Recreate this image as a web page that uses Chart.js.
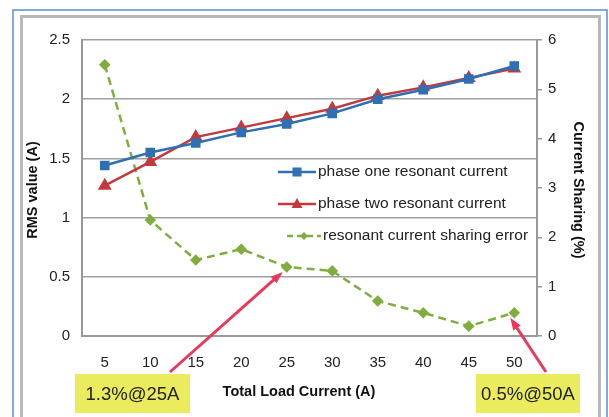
<!DOCTYPE html>
<html>
<head>
<meta charset="utf-8">
<script src="https://cdn.jsdelivr.net/npm/chart.js@4"></script>
<style>
  html, body { margin: 0; padding: 0; background: #fff; }
  #wrap { width: 609px; height: 417px; position: relative; }
</style>
</head>
<body>
<div id="wrap"><canvas id="c" width="609" height="417"></canvas></div>
<script>
const loadCurrent = ['5', '10', '15', '20', '25', '30', '35', '40', '45', '50'];
const phaseOne = [1.44, 1.55, 1.63, 1.72, 1.79, 1.88, 2.00, 2.08, 2.17, 2.28];
const phaseTwo = [1.27, 1.47, 1.68, 1.76, 1.84, 1.92, 2.03, 2.10, 2.18, 2.26];
const sharingError = [5.5, 2.35, 1.54, 1.76, 1.40, 1.32, 0.71, 0.47, 0.2, 0.47];
const leftTicks = [0, 0.5, 1, 1.5, 2, 2.5];
const rightTicks = [0, 1, 2, 3, 4, 5, 6];

const FONT = '"Liberation Sans", Arial, sans-serif';
const BLUE = '#2f6fb3';
const RED = '#c23a3d';
const GREEN = '#7fae3e';

// frame, legend, axis titles and callouts drawn on top of the chart
const decorations = {
  id: 'decorations',
  beforeDraw(chart) {
    const ctx = chart.ctx;
    ctx.save();
    ctx.strokeStyle = '#5a8fd6';
    ctx.lineWidth = 1.5;
    ctx.strokeRect(13, 10, 594, 420);
    ctx.strokeStyle = '#b9b9b9';
    ctx.lineWidth = 3;
    ctx.strokeRect(21.5, 16.5, 578, 420);
    ctx.restore();
  },
  afterDraw(chart) {
    const ctx = chart.ctx;
    ctx.save();

    // legend
    const entries = [
      { label: 'phase one resonant current', color: BLUE, shape: 'rect', y: 172, x0: 278, x1: 316, tx: 318 },
      { label: 'phase two resonant current', color: RED, shape: 'triangle', y: 204, x0: 278, x1: 316, tx: 318 },
      { label: 'resonant current sharing error', color: GREEN, shape: 'rectRot', y: 236, x0: 287, x1: 321, tx: 323 }
    ];
    entries.forEach(e => {
      ctx.strokeStyle = e.color;
      ctx.lineWidth = 2.5;
      ctx.setLineDash(e.shape === 'rectRot' ? [6, 4] : []);
      ctx.beginPath();
      ctx.moveTo(e.x0, e.y);
      ctx.lineTo(e.x1, e.y);
      ctx.stroke();
      ctx.setLineDash([]);
      ctx.fillStyle = e.color;
      const mx = (e.x0 + e.x1) / 2;
      if (e.shape === 'rect') ctx.fillRect(mx - 4.5, e.y - 4.5, 9, 9);
      if (e.shape === 'triangle') {
        ctx.beginPath();
        ctx.moveTo(mx, e.y - 6); ctx.lineTo(mx + 5.5, e.y + 4); ctx.lineTo(mx - 5.5, e.y + 4);
        ctx.closePath(); ctx.fill();
      }
      if (e.shape === 'rectRot') {
        ctx.beginPath();
        ctx.moveTo(mx, e.y - 4); ctx.lineTo(mx + 4, e.y); ctx.lineTo(mx, e.y + 4); ctx.lineTo(mx - 4, e.y);
        ctx.closePath(); ctx.fill();
      }
      ctx.fillStyle = '#222';
      ctx.font = '15.5px ' + FONT;
      ctx.textAlign = 'left';
      ctx.textBaseline = 'middle';
      ctx.fillText(e.label, e.tx, e.y);
    });

    // axis titles
    ctx.fillStyle = '#111';
    ctx.font = 'bold 14.5px ' + FONT;
    ctx.textAlign = 'center';
    ctx.textBaseline = 'middle';
    ctx.fillText('Total Load Current (A)', 299, 392);
    ctx.save();
    ctx.translate(33, 190);
    ctx.rotate(-Math.PI / 2);
    ctx.fillText('RMS value (A)', 0, 0);
    ctx.restore();
    ctx.save();
    ctx.translate(578, 190);
    ctx.rotate(Math.PI / 2);
    ctx.fillText('Current Sharing (%)', 0, 0);
    ctx.restore();

    // callouts
    const x = chart.scales.x;
    const y1 = chart.scales.y1;
    const callouts = [
      { text: '1.3%@25A', box: [75, 374, 115, 39], from: [170, 372], idx: 4 },
      { text: '0.5%@50A', box: [476, 374, 104, 39], from: [546, 372], idx: 9 }
    ];
    callouts.forEach(c => {
      ctx.fillStyle = '#ebeb5e';
      ctx.fillRect(...c.box);
      ctx.fillStyle = '#222';
      ctx.font = '18.5px ' + FONT;
      ctx.textAlign = 'center';
      ctx.textBaseline = 'middle';
      ctx.fillText(c.text, c.box[0] + c.box[2] / 2, c.box[1] + c.box[3] / 2 + 1);

      const tx = x.getPixelForValue(c.idx) - 4;
      const ty = y1.getPixelForValue(sharingError[c.idx]) + 5;
      const ang = Math.atan2(ty - c.from[1], tx - c.from[0]);
      ctx.strokeStyle = '#e8395a';
      ctx.fillStyle = '#e8395a';
      ctx.lineWidth = 3;
      ctx.beginPath();
      ctx.moveTo(c.from[0], c.from[1]);
      ctx.lineTo(tx - 8 * Math.cos(ang), ty - 8 * Math.sin(ang));
      ctx.stroke();
      ctx.beginPath();
      ctx.moveTo(tx, ty);
      ctx.lineTo(tx - 13 * Math.cos(ang - 0.35), ty - 13 * Math.sin(ang - 0.35));
      ctx.lineTo(tx - 13 * Math.cos(ang + 0.35), ty - 13 * Math.sin(ang + 0.35));
      ctx.closePath();
      ctx.fill();
    });
    ctx.restore();
  }
};

new Chart(document.getElementById('c'), {
  type: 'line',
  data: {
    labels: loadCurrent,
    datasets: [
      {
        label: 'phase one resonant current',
        data: phaseOne,
        borderColor: BLUE,
        backgroundColor: BLUE,
        borderWidth: 2.5,
        pointStyle: 'rect',
        pointRadius: 5,
        yAxisID: 'y'
      },
      {
        label: 'phase two resonant current',
        data: phaseTwo,
        borderColor: RED,
        backgroundColor: RED,
        borderWidth: 2.5,
        pointStyle: 'triangle',
        pointRadius: 5.5,
        yAxisID: 'y'
      },
      {
        label: 'resonant current sharing error',
        data: sharingError,
        borderColor: GREEN,
        backgroundColor: GREEN,
        borderWidth: 2.5,
        borderDash: [8, 5],
        pointStyle: 'rectRot',
        pointRadius: 4,
        yAxisID: 'y1'
      }
    ]
  },
  options: {
    responsive: false,
    animation: false,
    layout: { padding: { left: 21, right: 9, top: 40, bottom: 0 } },
    plugins: { legend: { display: false }, tooltip: { enabled: false } },
    scales: {
      x: {
        offset: true,
        grid: { display: false, drawTicks: false },
        border: { display: true, color: '#999', width: 2 },
        ticks: { color: '#222', font: { family: FONT, size: 15 }, padding: 18 },
        afterFit: (s) => { s.height = 81; }
      },
      y: {
        position: 'left',
        min: 0,
        max: 2.5,
        afterBuildTicks: (s) => { s.ticks = leftTicks.map(v => ({ value: v })); },
        grid: { color: '#a0a0a0', lineWidth: 1.5, drawTicks: false },
        border: { display: true, color: '#999', width: 2 },
        ticks: { color: '#222', font: { family: FONT, size: 15 }, padding: 12, callback: (v) => String(v) },
        afterFit: (s) => { s.width = 61; }
      },
      y1: {
        position: 'right',
        min: 0,
        max: 6,
        afterBuildTicks: (s) => { s.ticks = rightTicks.map(v => ({ value: v })); },
        grid: { drawOnChartArea: false, color: '#999', tickLength: 5, lineWidth: 1.5 },
        border: { display: true, color: '#999', width: 2 },
        ticks: { color: '#222', font: { family: FONT, size: 15 }, padding: 6, callback: (v) => String(v) },
        afterFit: (s) => { s.width = 63; }
      }
    }
  },
  plugins: [decorations]
});
</script>
</body>
</html>
